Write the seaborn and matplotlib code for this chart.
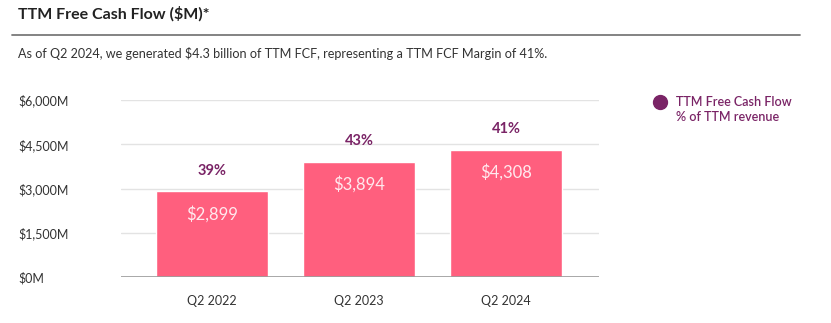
import matplotlib
matplotlib.use("Agg")
import matplotlib.pyplot as plt
import seaborn as sns
import pandas as pd

quarters = ["Q2 2022", "Q2 2023", "Q2 2024"]
fcf_musd = [2899, 3894, 4308]
fcf_margin_pct = [39, 43, 41]
y_ticks = [0, 1500, 3000, 4500, 6000]
y_tick_labels = ["$0M", "$1,500M", "$3,000M", "$4,500M", "$6,000M"]

BAR = "#ff5f7e"
PURPLE = "#7a2466"
TEXT = "#333333"

sns.set_theme(style="white")
plt.rcParams["font.family"] = ["Lato", "DejaVu Sans"]

df = pd.DataFrame({"quarter": quarters, "fcf": fcf_musd})

W, H = 831, 323
fig = plt.figure(figsize=(W / 100, H / 100), dpi=100)
ax = fig.add_axes([121 / W, 1 - 277 / H, (599 - 121) / W, (277 - 100) / H])

sns.barplot(data=df, x="quarter", y="fcf", color=BAR, saturation=1,
            width=0.76, ax=ax, zorder=3)

ax.set_xlim(-0.62, 2.63)
ax.set_ylim(0, 6000)
ax.set_yticks(y_ticks)
ax.set_yticklabels(y_tick_labels)
ax.set_xlabel("")
ax.set_ylabel("")

for y in y_ticks[1:]:
    ax.axhline(y, color="#e3e3e3", lw=1, zorder=1)
ax.axhline(0, color="#9a9a9a", lw=1.2, zorder=4)

for s in ax.spines.values():
    s.set_visible(False)
ax.tick_params(axis="y", length=0, pad=74, labelsize=9, labelcolor=TEXT)
for lab in ax.get_yticklabels():
    lab.set_horizontalalignment("left")
ax.tick_params(axis="x", length=0, pad=13, labelsize=9, labelcolor=TEXT)

for i, (v, p) in enumerate(zip(fcf_musd, fcf_margin_pct)):
    ax.annotate(f"${v:,}", (i, v), xytext=(0, -16), textcoords="offset points",
                ha="center", va="center", color="#ffe9ee", fontsize=12, zorder=5)
    ax.annotate(f"{p}%", (i, v), xytext=(0, 15), textcoords="offset points",
                ha="center", va="center", color=PURPLE, fontsize=10.5,
                fontweight="bold", zorder=5, annotation_clip=False)

# Header
fig.text(18 / W, 1 - 14 / H, "TTM Free Cash Flow ($M)*", fontsize=11.5,
         fontweight="bold", color="#222222", va="center", ha="left")
fig.add_artist(plt.Line2D([12 / W, 800 / W], [1 - 35 / H, 1 - 35 / H],
                          color="#7a7a7a", lw=1.3))
fig.text(18 / W, 1 - 54 / H,
         "As of Q2 2024, we generated $4.3 billion of TTM FCF, representing a TTM FCF Margin of 41%.",
         fontsize=9.1, color=TEXT, va="center", ha="left")

# Legend
fig.add_artist(plt.Line2D([660 / W], [1 - 102 / H], marker="o", markersize=10,
                          color=PURPLE, linestyle="none"))
fig.text(676 / W, 1 - 102 / H, "TTM Free Cash Flow", fontsize=9,
         color=PURPLE, va="center", ha="left", fontweight="semibold")
fig.text(676 / W, 1 - 117 / H, "% of TTM revenue", fontsize=9,
         color=PURPLE, va="center", ha="left", fontweight="semibold")

fig.savefig("out.png", dpi=100)
